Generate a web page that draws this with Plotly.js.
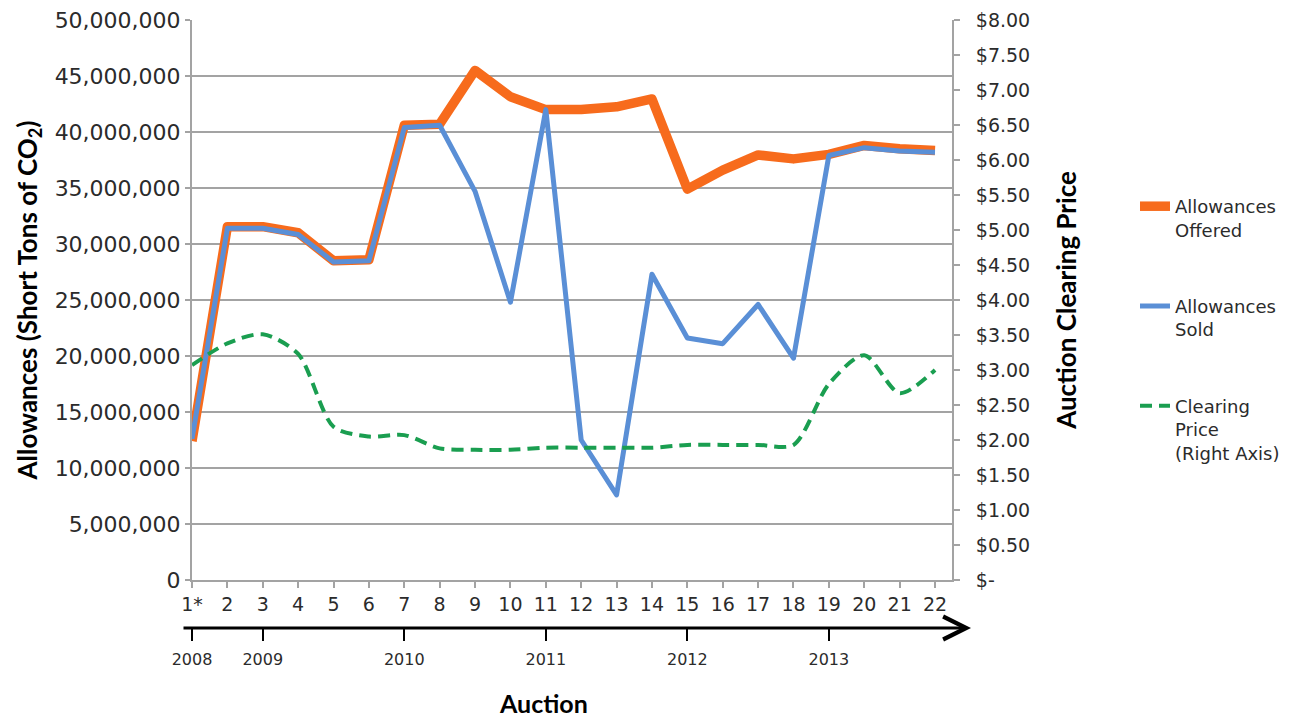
<!DOCTYPE html>
<html>
<head>
<meta charset="utf-8">
<script src="https://cdn.plot.ly/plotly-3.0.1.min.js"></script>
<style>
  html, body { margin: 0; padding: 0; background: #fff; }
  #chart { width: 1291px; height: 719px; }
  .scatterlayer .js-line { stroke-linejoin: round; }
</style>
</head>
<body>
<div id="chart"></div>
<script>
// ---- data ----
const auctions = [1, 2, 3, 4, 5, 6, 7, 8, 9, 10, 11, 12, 13, 14, 15, 16, 17, 18, 19, 20, 21, 22];
const auctionLabels = ['1*', '2', '3', '4', '5', '6', '7', '8', '9', '10', '11', '12', '13', '14', '15', '16', '17', '18', '19', '20', '21', '22'];
const allowancesOffered = [12400000, 31550000, 31550000, 31000000, 28500000, 28600000, 40600000, 40700000, 45500000, 43150000, 42000000, 42000000, 42250000, 42950000, 34900000, 36600000, 37950000, 37600000, 38000000, 38800000, 38500000, 38350000];
const allowancesSold = [12600000, 31400000, 31400000, 30850000, 28400000, 28500000, 40400000, 40600000, 34700000, 24800000, 42000000, 12500000, 7600000, 27300000, 21600000, 21100000, 24600000, 19800000, 37900000, 38600000, 38300000, 38200000];
const clearingPrice = [3.07, 3.38, 3.51, 3.23, 2.19, 2.05, 2.07, 1.88, 1.86, 1.86, 1.89, 1.89, 1.89, 1.89, 1.93, 1.93, 1.93, 1.93, 2.80, 3.21, 2.67, 3.00];
const yearPositions = [1, 3, 7, 11, 15, 19];
const yearLabels = ['2008', '2009', '2010', '2011', '2012', '2013'];
const priceTicks = [0, 0.5, 1, 1.5, 2, 2.5, 3, 3.5, 4, 4.5, 5, 5.5, 6, 6.5, 7, 7.5, 8];
const priceTickLabels = ['$-', '$0.50', '$1.00', '$1.50', '$2.00', '$2.50', '$3.00', '$3.50', '$4.00', '$4.50', '$5.00', '$5.50', '$6.00', '$6.50', '$7.00', '$7.50', '$8.00'];
const xTitle = 'Auction';

// ---- styles ----
const ORANGE = '#F76B1C';
const BLUE = '#5A8FD6';
const GREEN = '#1A9E50';
const GRID = '#A3A3A3';
const TICKFONT = 'DejaVu Sans, Verdana, sans-serif';
const TITLEFONT = 'Lato, Open Sans, sans-serif';

const traces = [
  {
    x: auctions, y: allowancesOffered, name: 'Allowances<br>Offered',
    type: 'scatter', mode: 'lines', legendgroup: 'a',
    line: { color: ORANGE, width: 9.5 }, xaxis: 'x', yaxis: 'y'
  },
  {
    x: auctions, y: allowancesSold, name: 'Allowances<br>Sold',
    type: 'scatter', mode: 'lines', legendgroup: 'b',
    line: { color: BLUE, width: 5 }, xaxis: 'x', yaxis: 'y'
  },
  {
    x: auctions, y: clearingPrice, name: 'Clearing<br>Price<br>(Right Axis)',
    type: 'scatter', mode: 'lines', legendgroup: 'c',
    line: { color: GREEN, width: 4, dash: '12px,7px', shape: 'spline', smoothing: 0.8 },
    xaxis: 'x', yaxis: 'y2'
  },
  {
    // carrier for the year timeline axis (no visible marks)
    x: yearPositions, y: yearPositions.map(() => null), name: 'years',
    type: 'scatter', mode: 'markers', marker: { opacity: 0 },
    showlegend: false, hoverinfo: 'skip', xaxis: 'x2', yaxis: 'y'
  }
];

const W = 1291, H = 719;
const mL = 192, mR = 339, mT = 20, mB = 6;
const paperW = W - mL - mR;
const paperH = H - mT - mB;
const plotBottom = 580;
const timelineY = 628;
const xRange = [1, 22.48];

const layout = {
  width: W, height: H,
  paper_bgcolor: '#ffffff', plot_bgcolor: '#ffffff',
  margin: { l: mL, r: mR, t: mT, b: mB, pad: 0 },
  font: { family: TICKFONT, color: '#2b2b2b' },
  showlegend: true,
  legend: {
    x: (1135 - mL) / paperW, xanchor: 'left',
    y: (H - mB - 188) / paperH, yanchor: 'top',
    font: { family: TICKFONT, size: 18, color: '#2b2b2b' },
    valign: 'top', traceorder: 'grouped', tracegroupgap: 50,
    bgcolor: 'rgba(0,0,0,0)'
  },
  xaxis: {
    range: xRange, tickvals: auctions, ticktext: auctionLabels,
    ticks: 'outside', ticklen: 6, tickwidth: 2, tickcolor: GRID,
    showline: true, linecolor: GRID, linewidth: 2,
    showgrid: false, zeroline: false, fixedrange: true,
    tickfont: { size: 19, color: '#2b2b2b' }, anchor: 'y'
  },
  xaxis2: {
    overlaying: 'x', anchor: 'free',
    position: (H - mB - timelineY) / paperH,
    range: xRange, tickvals: yearPositions, ticktext: yearLabels,
    ticks: 'outside', ticklen: 12, tickwidth: 2, tickcolor: '#000',
    showline: false, showgrid: false, zeroline: false, ticklabelstandoff: 5,
    tickfont: { size: 16, color: '#2b2b2b' }
  },
  yaxis: {
    domain: [(H - mB - plotBottom) / paperH, 1],
    range: [0, 50000000], dtick: 5000000, tickformat: ',d',
    ticks: 'outside', ticklen: 5, tickwidth: 2, tickcolor: GRID,
    showline: true, linecolor: GRID, linewidth: 2,
    showgrid: true, gridcolor: GRID, gridwidth: 2, zeroline: false,
    tickfont: { size: 22, color: '#2b2b2b' },
    title: { text: '<b>Allowances (Short Tons of CO<sub>2</sub>)</b>', font: { family: TITLEFONT, size: 26, color: '#000' }, standoff: 10 }
  },
  yaxis2: {
    overlaying: 'y', side: 'right', anchor: 'x',
    range: [0, 8], tickvals: priceTicks, ticktext: priceTickLabels,
    ticks: 'outside', ticklen: 6, tickwidth: 2, tickcolor: GRID,
    showline: true, linecolor: GRID, linewidth: 2,
    showgrid: false, zeroline: false, ticklabelstandoff: 12,
    tickfont: { size: 19, color: '#2b2b2b' },
    title: { text: '<b>Auction Clearing Price</b>', font: { family: TITLEFONT, size: 26, color: '#000' }, standoff: 29 }
  },
  annotations: [
    {
      xref: 'paper', yref: 'paper',
      x: (971 - mL) / paperW, y: (H - mB - timelineY) / paperH,
      axref: 'pixel', ayref: 'pixel', ax: -791, ay: 0,
      text: ' ', showarrow: true, arrowhead: 5, arrowsize: 1.5, arrowwidth: 3, arrowcolor: '#000'
    },
    {
      xref: 'paper', yref: 'paper',
      x: (543 - mL) / paperW, y: (H - mB - 703) / paperH,
      xanchor: 'center', yanchor: 'middle', showarrow: false,
      text: '<b>' + xTitle + '</b>',
      font: { family: TITLEFONT, size: 25, color: '#000' }
    }
  ]
};

Plotly.newPlot('chart', traces, layout, { displayModeBar: false, staticPlot: true });
</script>
</body>
</html>
